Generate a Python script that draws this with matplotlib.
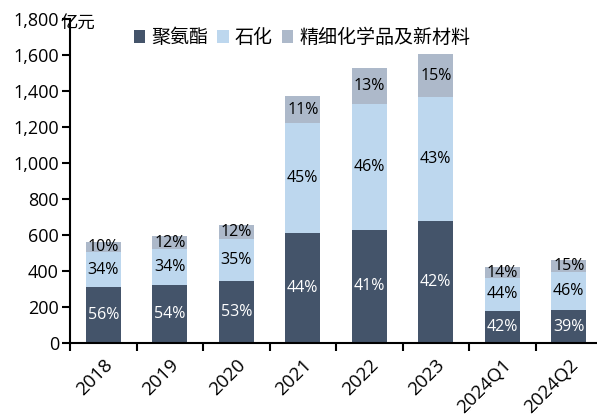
import matplotlib
matplotlib.use('Agg')
import matplotlib.pyplot as plt
import matplotlib.transforms as mtransforms
import numpy as np

plt.rcParams['font.family'] = ['Open Sans', 'Noto Sans CJK SC', 'DejaVu Sans']

# data (亿元)
years = ['2018', '2019', '2020', '2021', '2022', '2023', '2024Q1', '2024Q2']
polyurethane = [311, 322, 344, 611, 628, 678, 178, 183]
petrochem = [194, 200, 234, 611, 700, 689, 183, 211]
fine_chem = [56, 72, 77, 150, 200, 238, 61, 67]
pct_pu = [56, 54, 53, 44, 41, 42, 42, 39]
pct_petro = [34, 34, 35, 45, 46, 43, 44, 46]
pct_fine = [10, 12, 12, 11, 13, 15, 14, 15]

names = ['聚氨酯', '石化', '精细化学品及新材料']
colors = ['#44546a', '#bdd7ee', '#adb9ca']

fig = plt.figure(figsize=(5.97, 4.19), dpi=100)
ax = fig.add_axes([70/597, 0.1814, (602-70)/597, 0.7733])

x = np.arange(len(years))
w = 0.52
b1 = ax.bar(x, polyurethane, w, color=colors[0], label=names[0])
b2 = ax.bar(x, petrochem, w, bottom=polyurethane, color=colors[1], label=names[1])
bottom3 = np.array(polyurethane) + np.array(petrochem)
b3 = ax.bar(x, fine_chem, w, bottom=bottom3, color=colors[2], label=names[2])

for i in range(len(years)):
    ax.text(x[i], polyurethane[i]/2, f'{pct_pu[i]}%', ha='center', va='center',
            color='white', fontsize=11.5)
    ax.text(x[i], polyurethane[i] + petrochem[i]/2, f'{pct_petro[i]}%', ha='center',
            va='center', color='black', fontsize=11.5)
    ax.text(x[i], bottom3[i] + fine_chem[i]/2, f'{pct_fine[i]}%', ha='center',
            va='center', color='black', fontsize=11.5)

ax.set_xlim(-0.5, 7.5)
ax.set_ylim(0, 1800)
ax.set_yticks(range(0, 1801, 200))
ax.set_yticklabels([f'{v:,}' for v in range(0, 1801, 200)], fontsize=13)

ax.set_xticks(np.arange(-0.5, 8, 1))
ax.set_xticklabels([])
ax.set_xticks(x, minor=True)
ax.set_xticklabels(years, minor=True, rotation=45, ha='right', rotation_mode='anchor',
                   fontsize=13.5)
shift = mtransforms.ScaledTranslation(-5/100, 0, fig.dpi_scale_trans)
for lab in ax.get_xticklabels(minor=True):
    lab.set_transform(lab.get_transform() + shift)
ax.tick_params(axis='x', which='minor', length=0, pad=9)
ax.tick_params(axis='x', which='major', length=6, width=1.5, direction='out')
ax.tick_params(axis='y', length=6, width=1.5, direction='out', pad=2)

for s in ['top', 'right']:
    ax.spines[s].set_visible(False)
for s in ['left', 'bottom']:
    ax.spines[s].set_linewidth(1.5)
    ax.spines[s].set_color('black')

fig.text(61/597, 1 - 25/419, '亿元', fontsize=12.5, va='center', ha='left')

fig.legend(handles=[b1, b2, b3], labels=names, loc='center', ncol=3,
           bbox_to_anchor=(302/597, 1 - 38/419), frameon=False, fontsize=13.7,
           handlelength=0.6, handleheight=0.6, handletextpad=0.3, columnspacing=0.5)

fig.savefig('out.png', dpi=100)
